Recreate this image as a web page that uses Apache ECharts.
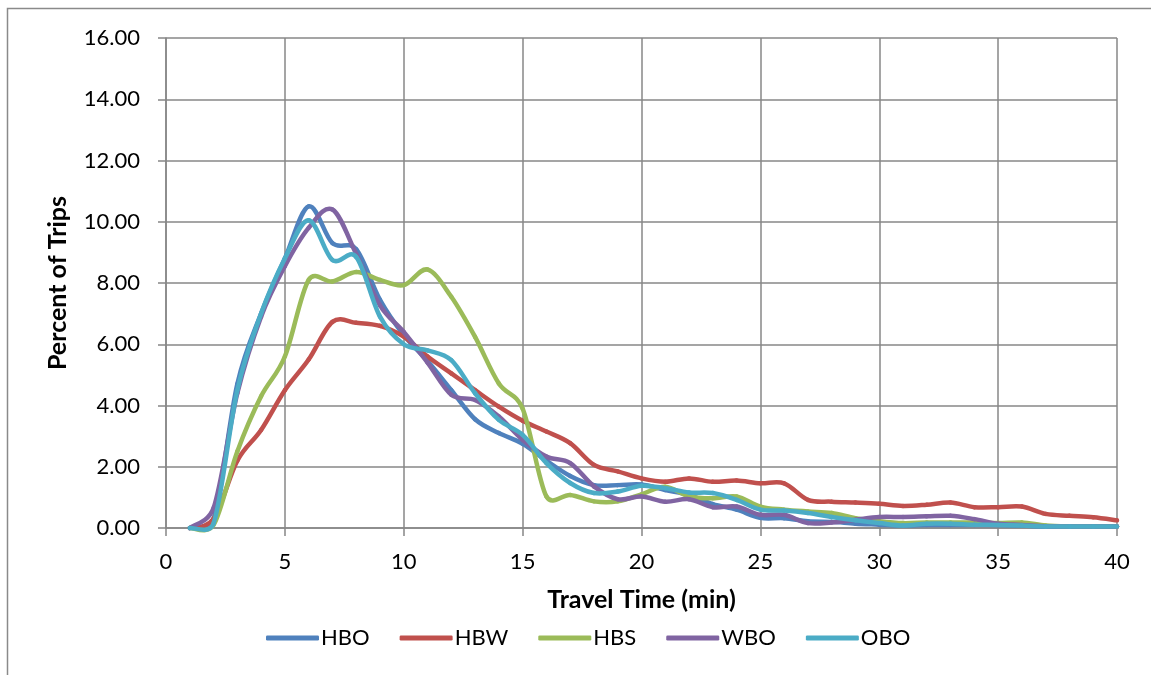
<!DOCTYPE html>
<html>
<head>
<meta charset="utf-8">
<script src="https://cdn.jsdelivr.net/npm/echarts@6/dist/echarts.min.js"></script>
<style>
  html, body { margin: 0; padding: 0; background: #fff; }
  #chart { width: 1151px; height: 675px; }
</style>
</head>
<body>
<div id="chart"></div>
<script>
const travelTime = [1,2,3,4,5,6,7,8,9,10,11,12,13,14,15,16,17,18,19,20,21,22,23,24,25,26,27,28,29,30,31,32,33,34,35,36,37,38,39,40];
const hbo = [0,0.3,4.7,7.0,8.8,10.5,9.3,9.1,7.45,6.3,5.45,4.5,3.55,3.1,2.75,2.2,1.7,1.4,1.4,1.42,1.24,1.08,0.78,0.6,0.33,0.32,0.22,0.2,0.14,0.11,0.08,0.1,0.1,0.1,0.1,0.08,0.05,0.05,0.05,0.05];
const hbw = [0,0.3,2.2,3.2,4.5,5.5,6.73,6.7,6.6,6.25,5.6,5.05,4.5,3.96,3.5,3.15,2.77,2.06,1.85,1.62,1.51,1.62,1.51,1.55,1.46,1.46,0.92,0.86,0.83,0.79,0.72,0.76,0.83,0.68,0.68,0.7,0.46,0.4,0.35,0.25];
const hbs = [0,0.1,2.5,4.3,5.6,8.1,8.05,8.36,8.1,7.93,8.44,7.55,6.24,4.72,3.9,1.03,1.08,0.87,0.87,1.1,1.35,1.03,0.97,1.03,0.7,0.6,0.54,0.49,0.32,0.22,0.16,0.18,0.18,0.18,0.16,0.18,0.08,0.05,0.05,0.05];
const wbo = [0,0.65,4.4,6.9,8.55,9.8,10.4,8.95,7.27,6.4,5.4,4.35,4.18,3.64,2.88,2.33,2.12,1.36,0.94,1.03,0.86,0.94,0.68,0.7,0.43,0.43,0.16,0.18,0.27,0.36,0.36,0.38,0.4,0.29,0.14,0.1,0.05,0.05,0.05,0.05];
const obo = [0,0.15,4.5,7.0,8.8,10.05,8.75,8.85,6.9,6.0,5.8,5.48,4.4,3.53,3.04,2.12,1.47,1.14,1.19,1.38,1.3,1.16,1.14,0.92,0.6,0.57,0.49,0.36,0.25,0.16,0.08,0.14,0.14,0.11,0.1,0.08,0.05,0.05,0.05,0.05];
const seriesNames = ['HBO','HBW','HBS','WBO','OBO'];
const seriesValues = [hbo, hbw, hbs, wbo, obo];
const colors = ['#4F81BD','#C0504D','#9BBB59','#8064A2','#4BACC6'];
const xTicks = [0,5,10,15,20,25,30,35,40];
const yTicks = [0,2,4,6,8,10,12,14,16];

const FONT = 'Lato';
const chart = echarts.init(document.getElementById('chart'), null, { renderer: 'canvas' });

function dist(a, b) { return Math.hypot(a[0] - b[0], a[1] - b[1]); }

// Smoothed segment renderer (spreadsheet-style Bezier smoothing with limited tangents)
function makeRenderItem(vals, color) {
  return function (params, api) {
    const i = params.dataIndex;
    const n = travelTime.length;
    if (i >= n - 1) return null;
    const pt = k => {
      const kk = Math.max(0, Math.min(n - 1, k));
      return api.coord([travelTime[kk], vals[kk]]);
    };
    const p0 = pt(i - 1), p1 = pt(i), p2 = pt(i + 1), p3 = pt(i + 2);
    const d12 = dist(p1, p2), d02 = dist(p0, p2), d13 = dist(p1, p3);
    let f1 = 1 / 6, f2 = 1 / 6;
    if (d02 / 6 >= d12 / 2 && d02 > 0) f1 = (d12 / 2) / d02;
    if (d13 / 6 >= d12 / 2 && d13 > 0) f2 = (d12 / 2) / d13;
    return {
      type: 'bezierCurve',
      shape: {
        x1: p1[0], y1: p1[1],
        x2: p2[0], y2: p2[1],
        cpx1: p1[0] + (p2[0] - p0[0]) * f1,
        cpy1: p1[1] + (p2[1] - p0[1]) * f1,
        cpx2: p2[0] - (p3[0] - p1[0]) * f2,
        cpy2: p2[1] - (p3[1] - p1[1]) * f2
      },
      style: { stroke: color, fill: null, lineWidth: 4.5, lineCap: 'round', lineJoin: 'round' },
      silent: true
    };
  };
}

const series = seriesNames.map((name, i) => ({
  name,
  type: 'custom',
  coordinateSystem: 'cartesian2d',
  itemStyle: { color: colors[i] },
  renderItem: makeRenderItem(seriesValues[i], colors[i]),
  encode: { x: 0, y: 1 },
  clip: false,
  data: travelTime.map((t, j) => [t, seriesValues[i][j]]),
  animation: false
}));

chart.setOption({
  animation: false,
  backgroundColor: '#ffffff',
  color: colors,
  graphic: [{
    type: 'rect',
    shape: { x: 7.5, y: 8.5, width: 1300, height: 800 },
    style: { fill: 'none', stroke: '#8a8a8a', lineWidth: 1.5 },
    silent: true
  }],
  grid: { left: 166, right: 34, top: 38, bottom: 147, containLabel: false },
  legend: {
    data: seriesNames,
    bottom: 21,
    left: 261,
    icon: 'roundRect',
    itemWidth: 53,
    itemHeight: 5,
    itemGap: 30,
    textStyle: { fontFamily: FONT, fontSize: 22, color: '#000', padding: [0, 0, 0, -3] }
  },
  xAxis: {
    type: 'value',
    min: 0, max: 40, interval: 5,
    name: 'Travel Time (min)',
    nameLocation: 'middle',
    nameGap: 59,
    nameTextStyle: { fontFamily: FONT, fontSize: 25, fontWeight: 'bold', color: '#000' },
    axisLine: { show: true, onZero: false, lineStyle: { color: '#878787', width: 1.5 } },
    axisTick: { show: true, length: 8, inside: false, lineStyle: { color: '#878787', width: 1.5 } },
    axisLabel: { fontFamily: FONT, fontSize: 22, color: '#000', margin: 23,
      customValues: xTicks },
    splitLine: { show: true, lineStyle: { color: '#878787', width: 1.5 } }
  },
  yAxis: {
    type: 'value',
    min: 0, max: 16, interval: 2,
    name: 'Percent of Trips',
    nameLocation: 'middle',
    nameGap: 96,
    nameTextStyle: { fontFamily: FONT, fontSize: 25, fontWeight: 'bold', color: '#000' },
    axisLine: { show: true, lineStyle: { color: '#878787', width: 1.5 } },
    axisTick: { show: true, length: 8, inside: false, lineStyle: { color: '#878787', width: 1.5 } },
    axisLabel: { fontFamily: FONT, fontSize: 22, color: '#000', margin: 26,
      customValues: yTicks, formatter: v => v.toFixed(2) },
    splitLine: { show: true, lineStyle: { color: '#878787', width: 1.5 } }
  },
  series
});
</script>
</body>
</html>
